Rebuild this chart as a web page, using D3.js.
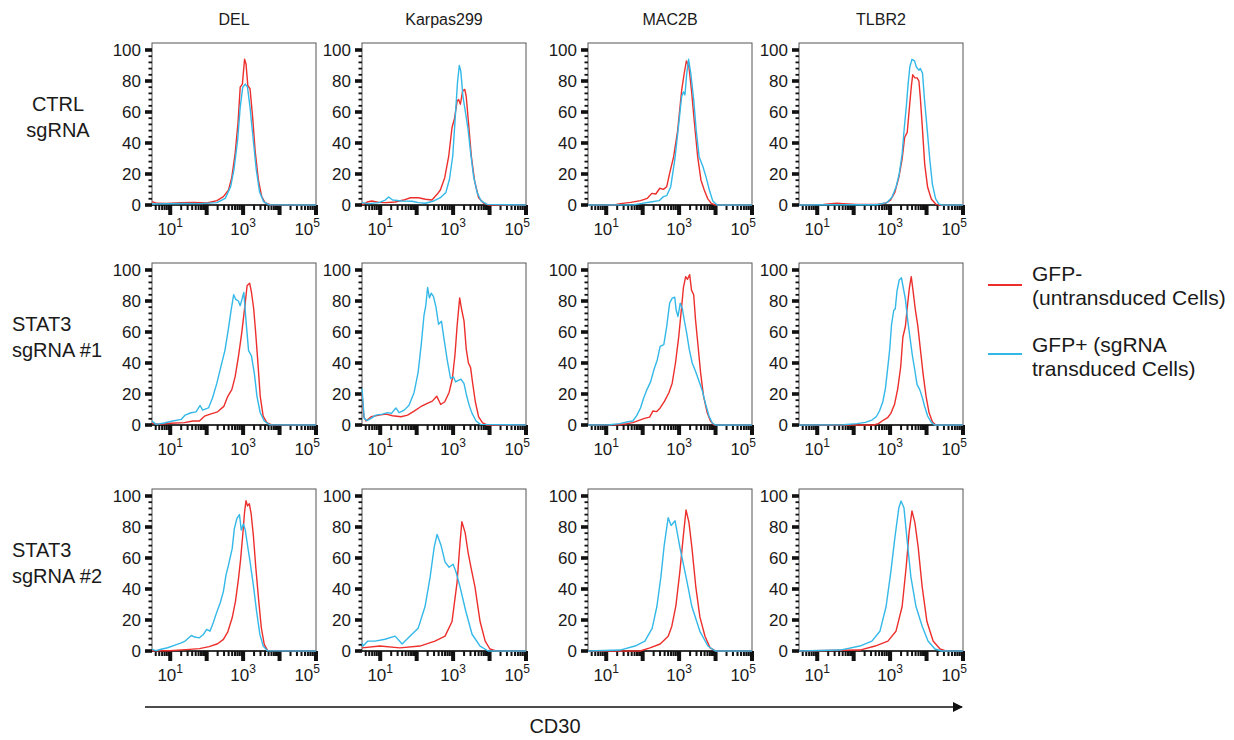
<!DOCTYPE html>
<html>
<head>
<meta charset="utf-8">
<script src="https://cdn.jsdelivr.net/npm/d3@7"></script>
<style>
  body { margin: 0; background: #fff; }
  svg { display: block; }
  text { font-family: "Liberation Sans", Arial, Helvetica, sans-serif; fill: #1a1a1a; }
</style>
</head>
<body>
<svg id="chart" width="1234" height="740"></svg>
<script>
// ---- categories -------------------------------------------------------
const cellLines = ["DEL", "Karpas299", "MAC2B", "TLBR2"];
const conditions = [["CTRL", "sgRNA"], ["STAT3", "sgRNA #1"], ["STAT3", "sgRNA #2"]];
const seriesNames = [["GFP-", "(untransduced Cells)"], ["GFP+ (sgRNA", "transduced Cells)"]];
const axisTitle = "CD30";

// ---- tick values --------------------------------------------------------
const yTickValues = [0, 20, 40, 60, 80, 100];
const xLabelExponents = [1, 3, 5];

// ---- histograms: [log10(CD30), % of max] -------------------------------
// CTRL sgRNA
const delCtrlNeg = [[0.5,2.2],[0.64,1.1],[0.91,1],[1.28,1.5],[1.64,1.7],[2.01,1.3],[2.28,2.8],[2.46,5.4],[2.6,9.7],[2.69,18],[2.78,33],[2.86,53],[2.92,76],[2.98,78],[3.04,94],[3.08,91],[3.13,77],[3.19,75],[3.26,57],[3.33,35],[3.42,16],[3.51,5.4],[3.6,1.5],[3.74,0.2],[5,0]];
const delCtrlPos = [[0.5,0.6],[1.37,1],[1.82,0.9],[2.28,1.5],[2.51,4.3],[2.66,12],[2.75,23],[2.85,42],[2.92,63],[2.99,76],[3.06,78],[3.12,76],[3.19,63],[3.27,44],[3.36,23],[3.45,8.6],[3.56,2.2],[3.7,0.2],[5,0]];
const karCtrlNeg = [[0.5,0],[0.64,1.9],[0.77,2.6],[0.96,1.7],[1.14,1.5],[1.41,1.9],[1.64,3.2],[1.83,4.7],[2.05,4.7],[2.24,3.7],[2.42,3.2],[2.56,6.9],[2.65,9.7],[2.77,17.6],[2.88,31.6],[2.97,50],[3.04,56],[3.11,67],[3.15,68],[3.2,65],[3.26,73.5],[3.32,74.6],[3.36,70],[3.43,51],[3.5,31.6],[3.59,15.5],[3.7,4.7],[3.84,1.1],[3.98,0],[5,0]];
const karCtrlPos = [[0.5,1.5],[0.68,0.9],[0.96,1.5],[1.14,3.2],[1.23,5.2],[1.34,3.2],[1.6,2.6],[1.87,2.4],[2.05,1.5],[2.24,1.1],[2.47,2.6],[2.65,4.7],[2.8,8],[2.9,16.6],[2.99,31.6],[3.06,57],[3.12,79],[3.17,90],[3.21,86.5],[3.27,70],[3.34,59.6],[3.41,49],[3.48,33.8],[3.56,18.7],[3.66,8],[3.77,2.6],[3.93,0.4],[5,0]];
const macCtrlNeg = [[0.5,0],[1.21,0],[1.39,0.9],[1.67,1.7],[1.94,2.8],[2.13,4.3],[2.25,7.5],[2.36,7.1],[2.47,10.8],[2.57,10.1],[2.66,11.8],[2.74,20.4],[2.85,31.2],[2.96,48],[3.07,74],[3.14,85],[3.2,93],[3.27,89],[3.34,74],[3.42,53],[3.51,31],[3.6,16],[3.69,9.7],[3.78,4.3],[3.88,1.1],[3.99,0],[5,0]];
const macCtrlPos = [[0.5,0],[1.76,0.2],[1.94,0.9],[2.22,1.9],[2.45,2.8],[2.57,5.4],[2.66,6],[2.77,11.8],[2.88,29],[2.97,48],[3.07,70],[3.12,73],[3.16,71],[3.21,85],[3.26,94],[3.32,85],[3.4,68],[3.47,48],[3.55,31],[3.65,25],[3.74,18],[3.83,9.7],[3.92,2.8],[4.04,0],[5,0]];
const tlbCtrlNeg = [[0.5,0],[1.17,0.4],[1.54,1.1],[1.72,0.9],[2.09,0.4],[2.64,0.4],[2.87,1.1],[3.01,3.2],[3.13,8.2],[3.24,17.8],[3.33,29.7],[3.4,43.7],[3.47,46.9],[3.53,63],[3.58,76],[3.62,84],[3.68,82],[3.74,82],[3.79,80],[3.83,69],[3.89,48],[3.95,26],[4.03,11.4],[4.13,3.9],[4.25,0.6],[4.34,0],[5,0]];
const tlbCtrlPos = [[0.5,0],[1.45,0.2],[2.64,0.2],[2.91,1.5],[3.05,5],[3.16,11.4],[3.25,20],[3.33,33],[3.39,50],[3.45,65],[3.49,77],[3.54,89],[3.6,94],[3.67,93],[3.72,89],[3.79,87],[3.83,88],[3.89,85],[3.94,69],[4.02,48],[4.09,29],[4.16,13.5],[4.25,3.9],[4.34,0.6],[4.43,0],[5,0]];

// STAT3 sgRNA #1
const delSg1Neg = [[0.5,1.1],[0.7,0.4],[1.02,1.1],[1.39,1.5],[1.62,2.6],[1.8,2.6],[1.94,5.7],[2.12,7.2],[2.3,8.5],[2.47,12],[2.58,18.5],[2.69,22.8],[2.78,31],[2.87,44],[2.96,59],[3.05,77],[3.11,90],[3.18,91.5],[3.23,85.5],[3.29,75],[3.34,61],[3.4,42],[3.47,18.5],[3.55,5.7],[3.65,1.5],[3.77,0.2],[5,0]];
const delSg1Pos = [[0.5,2.6],[0.61,0.4],[0.84,1.3],[1.07,2.6],[1.3,3.6],[1.41,6.4],[1.57,7.9],[1.71,8.5],[1.82,12.6],[1.89,9.6],[2.05,11],[2.16,17.4],[2.28,27],[2.39,37.7],[2.5,48],[2.59,61],[2.67,74],[2.74,84],[2.8,81],[2.87,80],[2.92,77],[3.02,85.5],[3.08,67],[3.15,48],[3.23,44.5],[3.31,33],[3.38,18.5],[3.47,7.9],[3.58,2.6],[3.72,0.2],[5,0]];
const karSg1Neg = [[0.5,21],[0.55,5.3],[0.61,2.6],[0.75,5.3],[0.97,6.4],[1.16,7],[1.34,6],[1.57,5.3],[1.75,6.4],[1.93,9],[2.11,11.8],[2.29,13.9],[2.43,15.4],[2.55,18.6],[2.66,13.2],[2.77,15],[2.89,21],[2.98,30],[3.05,45],[3.11,64],[3.18,82],[3.23,75],[3.3,67],[3.36,49],[3.42,40],[3.48,37],[3.53,28],[3.61,15],[3.7,5.3],[3.81,1.3],[3.93,0],[5,0]];
const karSg1Pos = [[0.5,23.5],[0.56,4.3],[0.64,2.8],[0.75,4.3],[0.88,6.4],[1.06,7],[1.2,8],[1.31,7.5],[1.43,11],[1.52,8],[1.66,9.6],[1.79,12.8],[1.93,21],[2.04,34],[2.13,53],[2.2,70.5],[2.25,77],[2.3,88.7],[2.35,82],[2.4,85],[2.46,83],[2.53,76],[2.6,65],[2.68,67],[2.75,55.6],[2.84,41.7],[2.93,30],[3.01,31],[3.07,27.8],[3.14,28.8],[3.22,29.5],[3.3,26.7],[3.37,19],[3.44,12.8],[3.52,7.5],[3.63,2.6],[3.75,0.4],[5,0]];
const macSg1Neg = [[0.5,0],[1.28,0.2],[1.51,0.6],[1.73,1.5],[1.9,3],[2.05,4.3],[2.19,5.1],[2.28,9],[2.38,8.6],[2.48,11],[2.6,15.4],[2.72,20.8],[2.81,27],[2.9,40],[2.99,57],[3.06,74],[3.12,89],[3.18,95.7],[3.23,94],[3.29,97],[3.34,87],[3.4,84],[3.45,68],[3.52,51],[3.59,33.6],[3.67,18.6],[3.77,8],[3.86,2.6],[3.95,0.2],[5,0]];
const macSg1Pos = [[0.5,0],[1.09,0.2],[1.37,0.9],[1.6,2.1],[1.73,2.6],[1.84,6.2],[1.94,11],[2.03,17.6],[2.12,23],[2.22,28],[2.31,35.8],[2.4,42],[2.48,50.7],[2.58,51.8],[2.66,63.6],[2.74,78.6],[2.81,81.8],[2.88,82.4],[2.92,74],[2.97,70],[3.03,78.6],[3.09,75],[3.14,67.9],[3.21,59],[3.28,48.6],[3.36,40],[3.45,34.7],[3.55,28],[3.64,21.8],[3.73,13.3],[3.82,5.8],[3.91,1.3],[4,0],[5,0]];
const tlbSg1Neg = [[0.5,0],[2.55,0],[2.68,0.9],[2.82,3.2],[2.93,4.7],[3.02,7.5],[3.12,13.2],[3.21,23.5],[3.29,37.4],[3.35,56.6],[3.42,63.7],[3.47,75.9],[3.53,88.7],[3.58,95.7],[3.63,86.5],[3.69,74.8],[3.76,64],[3.83,49],[3.91,32],[3.99,18],[4.07,7.9],[4.16,2.1],[4.25,0],[5,0]];
const tlbSg1Pos = [[0.5,0],[1.72,0.2],[2.09,0.9],[2.32,1.7],[2.5,3.2],[2.62,5.3],[2.71,9.2],[2.8,15],[2.87,23.5],[2.93,35.9],[2.99,49],[3.04,65],[3.1,74],[3.14,74.8],[3.19,86.5],[3.25,93.6],[3.31,95],[3.35,90],[3.42,81],[3.48,68],[3.55,55.6],[3.61,45],[3.68,35],[3.74,26],[3.81,23],[3.88,18],[3.95,11.8],[4.03,5.8],[4.13,1.7],[4.22,0],[5,0]];

// STAT3 sgRNA #2
const delSg2Neg = [[0.5,0.2],[0.98,0.2],[1.43,0.9],[1.8,1.5],[2.07,2.8],[2.3,4.7],[2.46,7.5],[2.58,12.4],[2.7,21.4],[2.79,32],[2.87,46],[2.93,58.8],[2.99,74.8],[3.04,89.7],[3.08,97],[3.12,93.6],[3.17,95],[3.22,88.7],[3.28,74.8],[3.35,53.4],[3.43,32],[3.5,15],[3.58,4.3],[3.67,0.4],[5,0]];
const delSg2Pos = [[0.5,1.1],[0.61,0.2],[0.75,1.1],[0.93,2.1],[1.11,3.6],[1.3,5.3],[1.41,6.4],[1.51,8.5],[1.58,10],[1.67,9],[1.8,8.5],[1.91,10.7],[2,13.9],[2.09,12.8],[2.18,18.2],[2.27,24.6],[2.37,31],[2.46,38.5],[2.53,49],[2.6,55.6],[2.7,66],[2.76,79],[2.83,85.5],[2.9,88],[2.95,78],[3.01,82],[3.06,78],[3.12,68.4],[3.19,57.7],[3.28,42.7],[3.37,25.6],[3.46,10.7],[3.55,3.2],[3.67,0.2],[5,0]];
const karSg2Neg = [[0.5,2],[0.99,3.2],[1.54,2],[2.09,3.2],[2.5,6.4],[2.78,9.6],[2.97,19],[3.11,44.6],[3.19,70],[3.24,83.4],[3.33,76.4],[3.41,63.7],[3.49,54],[3.6,41.4],[3.74,19],[3.88,6.4],[4.01,1.3],[4.18,0],[5,0]];
const karSg2Pos = [[0.5,5],[0.53,3.2],[0.66,6.4],[0.86,6.4],[1.13,7.6],[1.41,9.6],[1.6,4.5],[1.82,9.6],[2.04,14.6],[2.23,28.7],[2.37,47.8],[2.48,66.9],[2.56,75.2],[2.67,68],[2.78,57.3],[2.89,54],[3,56],[3.08,51],[3.19,41.4],[3.35,25.5],[3.52,10.8],[3.74,3.2],[3.96,0],[5,0]];
const macSg2Neg = [[0.5,0],[1.93,0],[2.2,2],[2.48,4.5],[2.7,9.5],[2.8,16],[2.91,29],[3.02,51],[3.11,73],[3.19,91],[3.27,83],[3.35,67],[3.46,41],[3.57,22],[3.71,9.5],[3.85,2],[4.01,0],[5,0]];
const macSg2Pos = [[0.5,0],[1.38,0.6],[1.79,3.2],[2.06,6.4],[2.26,14.6],[2.39,28.7],[2.5,47.8],[2.59,68],[2.7,86],[2.78,81],[2.89,84],[3.02,67],[3.19,47.8],[3.35,28.7],[3.57,12.7],[3.79,3.2],[3.99,0],[5,0]];
const tlbSg2Neg = [[0.5,0],[2.17,0.6],[2.59,3.2],[2.94,6.4],[3.16,12.7],[3.33,28.7],[3.44,54],[3.52,76.4],[3.6,90.4],[3.68,82.8],[3.77,67],[3.88,41.4],[4.01,19],[4.18,6.4],[4.37,1.3],[4.53,0],[5,0]];
const tlbSg2Pos = [[0.5,0],[1.63,0.6],[2.17,3.2],[2.5,6.4],[2.72,12.7],[2.89,28.7],[3.02,51],[3.13,73],[3.24,92.4],[3.3,96.8],[3.38,92.4],[3.46,73],[3.57,47.8],[3.71,28.7],[3.88,16],[4.04,6.4],[4.23,1.3],[4.42,0],[5,0]];

// rows = conditions, columns = cell lines; each cell = [GFP-, GFP+]
const histograms = [
  [[delCtrlNeg, delCtrlPos], [karCtrlNeg, karCtrlPos], [macCtrlNeg, macCtrlPos], [tlbCtrlNeg, tlbCtrlPos]],
  [[delSg1Neg, delSg1Pos], [karSg1Neg, karSg1Pos], [macSg1Neg, macSg1Pos], [tlbSg1Neg, tlbSg1Pos]],
  [[delSg2Neg, delSg2Pos], [karSg2Neg, karSg2Pos], [macSg2Neg, macSg2Pos], [tlbSg2Neg, tlbSg2Pos]]
];

// ---- layout -----------------------------------------------------------
const colLeft = [152, 362, 588, 799];
const rowTop = [43, 263, 489];
const panelW = 164, panelH = 162, topPad = 7;
const colors = ["#ec2f2c", "#33b8e8"];

const svg = d3.select("#chart");

const x = d3.scaleLog().domain([Math.pow(10, 0.5), 1e5]).range([0, panelW]);
const y = d3.scaleLinear().domain([0, 100]).range([panelH, topPad]);

const line = d3.line()
  .x(d => x(Math.pow(10, d[0])))
  .y(d => y(d[1]));

// tick positions for the log axis: 1..9 x 10^k inside the domain
const xMinor = [];
for (let k = 0; k <= 5; k++) {
  for (let m = 1; m <= 9; m++) {
    const v = m * Math.pow(10, k);
    if (v >= x.domain()[0] - 1e-9 && v <= x.domain()[1] + 1e-9) xMinor.push({ v, major: m === 1 });
  }
}
const yMinor = d3.range(0, 101, 4).map(v => ({ v, major: v % 20 === 0 }));

// column headers
svg.selectAll("text.col")
  .data(cellLines)
  .join("text")
  .attr("class", "col")
  .attr("x", (d, i) => colLeft[i] + panelW / 2)
  .attr("y", 25)
  .attr("text-anchor", "middle")
  .style("font-size", "16px")
  .text(d => d);

// row labels
conditions.forEach((lab, r) => {
  const t = svg.append("text")
    .attr("x", r === 0 ? 58 : 12)
    .attr("text-anchor", r === 0 ? "middle" : "start")
    .style("font-size", "20px");
  lab.forEach((s, j) => {
    t.append("tspan")
      .attr("x", r === 0 ? 58 : 12)
      .attr("y", rowTop[r] + 68 + j * 26)
      .text(s);
  });
});

// panels
histograms.forEach((row, r) => {
  row.forEach((pair, c) => {
    const g = svg.append("g").attr("transform", `translate(${colLeft[c]},${rowTop[r]})`);

    // frame
    g.append("rect")
      .attr("x", 0).attr("y", 0)
      .attr("width", panelW).attr("height", panelH)
      .attr("fill", "none").attr("stroke", "#555").attr("stroke-width", 1);

    // y ticks
    g.selectAll("rect.yt")
      .data(yMinor)
      .join("rect")
      .attr("class", "yt")
      .attr("x", d => d.major ? -7 : -3.5)
      .attr("width", d => d.major ? 7 : 3.5)
      .attr("y", d => y(d.v) - (d.major ? 1.8 : 0.9))
      .attr("height", d => d.major ? 3.6 : 1.8)
      .attr("fill", "#111");
    g.selectAll("text.yl")
      .data(yTickValues)
      .join("text")
      .attr("class", "yl")
      .attr("x", -11)
      .attr("y", d => y(d) + 6)
      .attr("text-anchor", "end")
      .style("font-size", "17px")
      .text(d => d);

    // x axis line and ticks
    g.append("line")
      .attr("x1", 0).attr("x2", panelW)
      .attr("y1", panelH).attr("y2", panelH)
      .attr("stroke", "#111").attr("stroke-width", 1.5);
    g.selectAll("rect.xt")
      .data(xMinor)
      .join("rect")
      .attr("class", "xt")
      .attr("x", d => x(d.v) - (d.major ? 2 : 1))
      .attr("width", d => d.major ? 4 : 2)
      .attr("y", panelH)
      .attr("height", d => d.major ? 10 : 5)
      .attr("fill", "#111");
    const xl = g.selectAll("text.xl")
      .data(xLabelExponents)
      .join("text")
      .attr("class", "xl")
      .attr("x", (d, i) => x(Math.pow(10, d)) + (i === xLabelExponents.length - 1 ? 4 : 0))
      .attr("y", panelH + 30)
      .attr("text-anchor", (d, i) => i === xLabelExponents.length - 1 ? "end" : "middle")
      .style("font-size", "17px");
    xl.append("tspan").text("10");
    xl.append("tspan").attr("dy", -8).style("font-size", "12px").text(d => d);

    // histograms: GFP- then GFP+
    pair.forEach((data, s) => {
      g.append("path")
        .datum(data)
        .attr("d", line)
        .attr("fill", "none")
        .attr("stroke", colors[s])
        .attr("stroke-width", 1.4)
        .attr("stroke-linejoin", "round");
    });
  });
});

// legend
const legend = svg.append("g").attr("transform", "translate(988,0)");
seriesNames.forEach((lines, s) => {
  const yLine = [285, 354][s];
  legend.append("line")
    .attr("x1", 0).attr("x2", 34)
    .attr("y1", yLine).attr("y2", yLine)
    .attr("stroke", colors[s]).attr("stroke-width", 2);
  const t = legend.append("text").style("font-size", "21px");
  lines.forEach((str, j) => {
    t.append("tspan")
      .attr("x", 44)
      .attr("y", [281, 352][s] + j * 24)
      .text(str);
  });
});

// CD30 arrow
const defs = svg.append("defs");
defs.append("marker")
  .attr("id", "arrowHead")
  .attr("viewBox", "0 0 10 10")
  .attr("refX", 9).attr("refY", 5)
  .attr("markerWidth", 10).attr("markerHeight", 10)
  .attr("markerUnits", "userSpaceOnUse")
  .attr("orient", "auto")
  .append("path")
  .attr("d", "M0,0 L10,5 L0,10 Z")
  .attr("fill", "#111");
svg.append("line")
  .attr("x1", 145).attr("x2", 962)
  .attr("y1", 707).attr("y2", 707)
  .attr("stroke", "#111").attr("stroke-width", 1.3)
  .attr("marker-end", "url(#arrowHead)");
svg.append("text")
  .attr("x", 555).attr("y", 733)
  .attr("text-anchor", "middle")
  .style("font-size", "20px")
  .text(axisTitle);
</script>
</body>
</html>
